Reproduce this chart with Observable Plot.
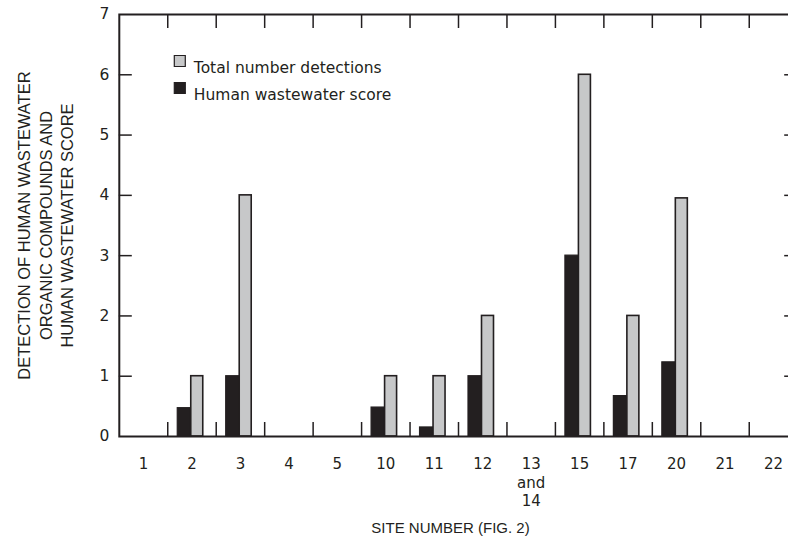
<!DOCTYPE html>
<html>
<head>
<meta charset="utf-8">
<script src="https://cdn.jsdelivr.net/npm/d3@7"></script>
<script src="https://cdn.jsdelivr.net/npm/@observablehq/plot@0.6"></script>
<style>
  html, body { margin: 0; padding: 0; background: #fff; overflow: hidden; }
  #chart { width: 788px; height: 541px; overflow: hidden; }
  #chart svg { max-width: none !important; display: block; }
</style>
</head>
<body>
<div id="chart"></div>
<script>
const sites = ["1","2","3","4","5","10","11","12","13 and 14","15","17","20","21","22"];
const totalDetections = [0, 1, 4, 0, 0, 1, 1, 2, 0, 6, 2, 3.95, 0, 0];
const wastewaterScore = [0, 0.47, 1, 0, 0, 0.48, 0.15, 1, 0, 3, 0.67, 1.23, 0, 0];
const yTicks = [0, 1, 2, 3, 4, 5, 6, 7];
const legendLabels = ["Total number detections", "Human wastewater score"];
const seriesColors = ["#c7c8c9", "#231f20"];
const yLabel = "DETECTION OF HUMAN WASTEWATER\nORGANIC COMPOUNDS AND\nHUMAN WASTEWATER SCORE";
const xLabel = "SITE NUMBER (FIG. 2)";

const ink = "#231f20";
const wide = "DejaVu Sans, Verdana, sans-serif";
const W = 800, H = 541;
const mL = 118.8, mR = 2.8, mT = 14, mB = 105;
const pw = W - mL - mR, ph = H - mT - mB;
const bw = pw / sites.length;

const totalRows = sites.map((s, i) => ({site: s, value: totalDetections[i]}));
const scoreRows = sites.map((s, i) => ({site: s, value: wastewaterScore[i]}));

const legendMarks = legendLabels.flatMap((label, i) => [
  Plot.dot([label], {
    frameAnchor: "top-left", dx: 60.5, dy: 46.5 + i * 27, symbol: "square", r: 6.2,
    fill: seriesColors[i], stroke: ink, strokeWidth: 1.2
  }),
  Plot.text([label], {
    frameAnchor: "top-left", dx: 74.5, dy: 47 + i * 27, text: d => d, textAnchor: "start",
    fontSize: 15.5, fontFamily: wide, fill: ink
  })
]);

const chart = Plot.plot({
  width: W,
  height: H,
  marginLeft: mL,
  marginRight: mR,
  marginTop: mT,
  marginBottom: mB,
  style: {fontFamily: "Liberation Sans, Arial, sans-serif", color: ink, background: "#fff", maxWidth: "none"},
  x: {domain: sites, padding: 0, round: false},
  y: {domain: [0, 7]},
  marks: [
    Plot.barY(scoreRows, {
      x: "site", y: "value", filter: d => d.value > 0,
      fill: seriesColors[1], stroke: ink, strokeWidth: 1.2,
      insetLeft: 10, insetRight: bw - 23.5
    }),
    Plot.barY(totalRows, {
      x: "site", y: "value", filter: d => d.value > 0,
      fill: seriesColors[0], stroke: ink, strokeWidth: 1.6,
      insetLeft: 23.5, insetRight: bw - 35.5
    }),
    // inward ticks between categories, bottom and top
    Plot.ruleX(sites.slice(1), {x: d => d, dx: -bw / 2, insetTop: ph - 14, stroke: ink, strokeWidth: 1.5}),
    Plot.ruleX(sites.slice(1), {x: d => d, dx: -bw / 2, insetBottom: ph - 14, stroke: ink, strokeWidth: 1.5}),
    // inward y ticks, left and right
    Plot.ruleY(yTicks.slice(1, -1), {y: d => d, insetRight: pw - 13, stroke: ink, strokeWidth: 1.5}),
    Plot.ruleY(yTicks.slice(1, -1), {y: d => d, insetLeft: pw - 13, stroke: ink, strokeWidth: 1.5}),
    Plot.axisY({ticks: yTicks, tickSize: 0, tickPadding: 10, fontSize: 15.5, fontFamily: wide, label: null, tickFormat: d => String(d)}),
    Plot.axisX({tickSize: 0, tickPadding: 19, fontSize: 15, fontFamily: wide, label: null, lineHeight: 1.25,
      tickFormat: d => d.replace(" and ", "\nand\n")}),
    Plot.frame({stroke: ink, strokeWidth: 2}),
    ...legendMarks,
    // axis titles
    Plot.text([yLabel], {
      frameAnchor: "left", dx: -74.5, rotate: -90, text: d => d, fontSize: 16.5,
      lineHeight: 1.3, textAnchor: "middle", fill: ink
    }),
    Plot.text([xLabel], {
      frameAnchor: "bottom", dx: -8, dy: 96, text: d => d, fontSize: 15, fill: ink
    })
  ]
});

document.getElementById("chart").appendChild(chart);
</script>
</body>
</html>
